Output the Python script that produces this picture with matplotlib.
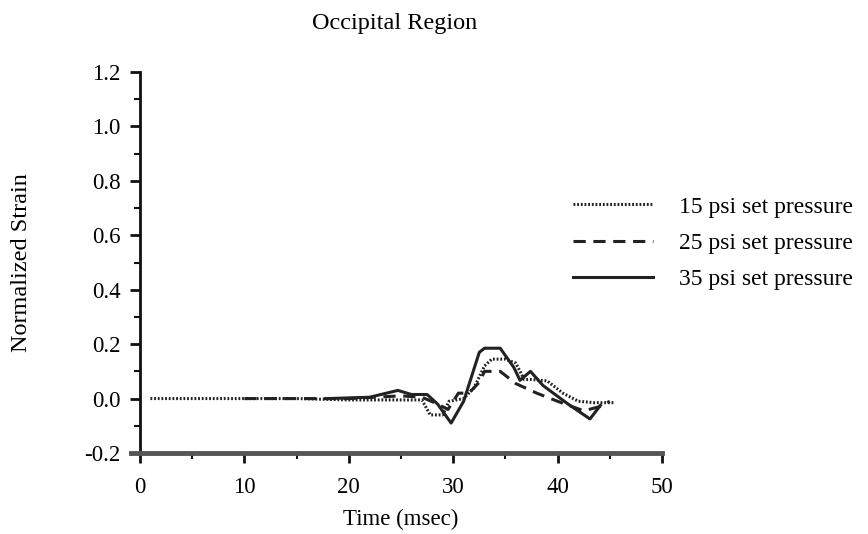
import matplotlib
matplotlib.use("Agg")
import matplotlib.pyplot as plt
from matplotlib.ticker import MultipleLocator

# Data
x15 = [1, 5, 10, 15, 20, 25, 27, 27.8, 29, 29.6, 31, 32, 33, 33.7, 35, 36, 36.8, 37.5, 39, 40.5, 42, 43.5, 45.5]
y15 = [0, 0, 0, 0, -0.005, -0.005, -0.005, -0.06, -0.06, -0.01, 0.0, 0.04, 0.12, 0.145, 0.145, 0.13, 0.07, 0.07, 0.065, 0.02, -0.01, -0.015, -0.015]

x25 = [10, 15, 20, 25, 27, 28.5, 29.5, 30.5, 31.5, 32.5, 33, 34.5, 36, 38, 40, 42.5, 44, 45]
y25 = [0, 0, 0, 0.01, 0.005, -0.02, -0.04, 0.02, 0.02, 0.06, 0.10, 0.10, 0.055, 0.02, -0.01, -0.045, -0.03, -0.01]

x35 = [18, 22, 24.7, 26, 27.5, 28.5, 29.8, 31, 32.5, 33, 34.5, 35.8, 36.4, 37.4, 38.6, 41, 43.1, 44.1]
y35 = [0.0, 0.005, 0.03, 0.015, 0.015, -0.02, -0.09, -0.01, 0.17, 0.185, 0.185, 0.115, 0.067, 0.10, 0.048, -0.02, -0.075, -0.025]

labels = ["15 psi set pressure", "25 psi set pressure", "35 psi set pressure"]
xticks = [0, 10, 20, 30, 40, 50]
yticks = [-0.2, 0.0, 0.2, 0.4, 0.6, 0.8, 1.0, 1.2]

plt.rcParams['font.family'] = ['Liberation Serif', 'DejaVu Serif']

W, H = 868, 534
fig = plt.figure(figsize=(W/100, H/100), dpi=100)
ax = fig.add_axes([140/W, 1 - 453/H, (662-140)/W, (453-72)/H])

c = '#222222'
ax.plot(x15, y15, color=c, lw=2.2, linestyle=(0, (0.6, 0.6)), label=labels[0])
ax.plot(x25, y25, color=c, lw=2.2, linestyle=(0, (4, 2.5)), label=labels[1])
ax.plot(x35, y35, color=c, lw=2.2, linestyle='-', label=labels[2])

ax.set_xlim(0, 50)
ax.set_ylim(-0.2, 1.2)
ax.set_xticks(xticks)
ax.set_xticklabels([str(t) for t in xticks])
ax.set_yticks(yticks)
ax.set_yticklabels([f"{t:.1f}" for t in yticks])
ax.xaxis.set_minor_locator(MultipleLocator(5))
ax.yaxis.set_minor_locator(MultipleLocator(0.1))

for s in ['top', 'right']:
    ax.spines[s].set_visible(False)
ax.spines['left'].set_linewidth(2)
ax.spines['left'].set_color('#111111')
ax.spines['bottom'].set_linewidth(3.5)
ax.spines['bottom'].set_color('#555555')
ax.spines['bottom'].set_bounds(-0.9, 50)

ax.tick_params(axis='both', which='major', direction='out', length=7, width=2, color='#111111', labelsize=16.5)
ax.tick_params(axis='both', which='minor', direction='out', length=4, width=1.5, color='#111111')
ax.tick_params(axis='x', which='major', pad=10)
ax.tick_params(axis='y', which='major', pad=7)

ax.set_xlabel("Time (msec)", fontsize=16.5, labelpad=8)
ax.set_ylabel("Normalized Strain", fontsize=17.5)
ax.yaxis.set_label_coords((32 - 140) / (662 - 140), 0.5)
fig.text(395/W, 1 - 23/H, "Occipital Region", ha='center', va='center', fontsize=17.5)

fig.legend(loc='upper left', bbox_to_anchor=(573/W, 1 - 196/H), frameon=False,
           fontsize=17, handlelength=3.4, handletextpad=1.1, labelspacing=0.63,
           borderpad=0, borderaxespad=0)

fig.savefig("out.png", dpi=100)
